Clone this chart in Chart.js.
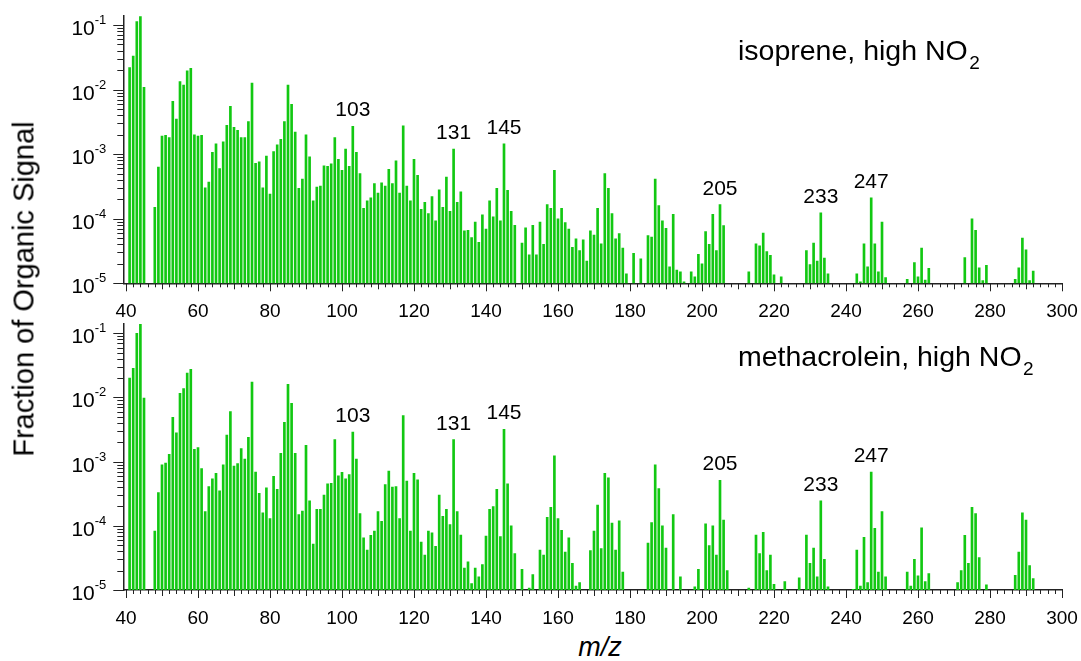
<!DOCTYPE html>
<html>
<head>
<meta charset="utf-8">
<script src="https://cdn.jsdelivr.net/npm/chart.js@4.4.1/dist/chart.umd.min.js"></script>
<style>
  body { margin: 0; background: #fff; width: 1081px; height: 661px; position: relative; overflow: hidden;
         font-family: "Liberation Sans", Arial, sans-serif; color: #000; }
  .panel { position: absolute; left: 0; width: 1081px; height: 330px; }
  #top { top: 0; }
  #bottom { top: 300px; }
  #ytitle { position: absolute; left: 24px; top: 289px; transform: translate(-50%, -50%) rotate(-90deg);
            font-size: 29px; line-height: 1; white-space: nowrap; }
  #xtitle { position: absolute; left: 600px; top: 647px; transform: translate(-50%, -50%);
            font-size: 27px; font-style: italic; line-height: 1; white-space: nowrap; }
</style>
</head>
<body>
<div class="panel" id="top"><canvas id="isopreneChart"></canvas></div>
<div class="panel" id="bottom"><canvas id="methacroleinChart"></canvas></div>
<div id="ytitle">Fraction of Organic Signal</div>
<div id="xtitle">m/z</div>
<script>
/**************************************************************
 * Data
 **************************************************************/
const MZ_START = 41;

// isoprene, high NO2  (m/z 41 ... 292, null = no bar)
const isopreneValues = [
  2.2e-2, 3.3e-2, 1.13e-1, 1.35e-1, 1.08e-2, null, null, 1.5e-4, 6.3e-4, 1.9e-3,        // 41
  1.95e-3, 1.8e-3, 6.6e-3, 3.5e-3, 1.33e-2, 1.17e-2, 1.95e-2, 2.14e-2, 2.0e-3, 1.9e-3,  // 51
  1.95e-3, 3.0e-4, 3.7e-4, 1.07e-3, 1.45e-3, 6.0e-4, 1.55e-3, 2.8e-3, 5.5e-3, 2.6e-3,   // 61
  2.35e-3, 1.8e-3, 1.8e-3, 3.2e-3, 1.26e-2, 7.2e-4, 7.6e-4, 3.0e-4, 9.3e-4, 2.4e-4,    // 71
  1.1e-3, 1.4e-3, 1.7e-3, 3.2e-3, 1.17e-2, 5.9e-3, 2.2e-3, 2.95e-4, 4.1e-4, 2.0e-3,    // 81
  9.1e-4, 1.9e-4, 3.1e-4, 3.2e-4, 6.6e-4, 6.5e-4, 7.1e-4, 1.8e-3, 8.3e-4, 5.6e-4,      // 91
  1.2e-3, 6.5e-4, 2.7e-3, 1.07e-3, 5.0e-4, 1.45e-4, 1.9e-4, 2.1e-4, 3.5e-4, 2.5e-4,    // 101
  3.6e-4, 3.2e-4, 5.8e-4, 3.5e-4, 7.9e-4, 2.5e-4, 2.75e-3, 3.2e-4, 1.9e-4, 8.3e-4,     // 111
  4.7e-4, 1.4e-4, 1.8e-4, 1.2e-4, 2.2e-4, 9.3e-5, 2.8e-4, 1.5e-4, 4.4e-4, 1.3e-4,      // 121
  1.2e-3, 1.8e-4, 2.6e-4, 6.5e-5, 6.6e-5, 5.1e-5, 8.9e-5, 4.3e-5, 1.15e-4, 6.9e-5,     // 131
  1.9e-4, 1.07e-4, 2.95e-4, 9.3e-5, 1.45e-3, 2.75e-4, 1.3e-4, 7.9e-5, null, 4.2e-5,    // 141
  7.2e-5, 2.75e-5, 7.9e-5, 2.75e-5, 8.9e-5, 4.0e-5, 1.66e-4, 1.45e-4, 5.6e-4, 1.0e-4,  // 151
  1.45e-4, 8.7e-5, 6.9e-5, 3.6e-5, 4.9e-5, 3.2e-5, 4.7e-5, 2.2e-5, 6.5e-5, 5.6e-5,     // 161
  1.45e-4, 4.1e-5, 5.0e-4, 2.95e-4, 1.2e-4, 4.9e-5, 5.9e-5, 3.5e-5, 1.4e-5, null,     // 171
  2.9e-5, null, 2.4e-5, null, 5.5e-5, 5.2e-5, 4.1e-4, 1.6e-4, 9.3e-5, 7.1e-5,          // 181
  1.8e-5, 1.17e-4, 1.6e-5, 1.5e-5, 1.05e-5, null, 1.5e-5, 1.26e-5, 2.8e-5, 2.0e-5,     // 191
  6.3e-5, 4.0e-5, 1.17e-4, 3.2e-5, 1.66e-4, 7.8e-5, null, null, null, null,            // 201
  null, null, 1.5e-5, null, 4.1e-5, 3.8e-5, 6.0e-5, 3.1e-5, 2.7e-5, 1.35e-5,           // 211
  null, 1.26e-5, null, null, null, null, null, null, 3.2e-5, 1.95e-5,                  // 221
  4.2e-5, 2.2e-5, 1.23e-4, 2.45e-5, 1.4e-5, null, null, null, null, null,              // 231
  null, null, 1.4e-5, 1.05e-5, 4.1e-5, 1.8e-5, 2.1e-4, 4.1e-5, 1.5e-5, 8.9e-5,         // 241
  1.23e-5, null, null, null, null, null, 1.15e-5, null, 2.1e-5, 1.26e-5,               // 251
  3.5e-5, 1.12e-5, 1.7e-5, null, null, null, null, null, null, null,                   // 261
  null, null, 2.5e-5, null, 1.0e-4, 6.6e-5, 1.74e-5, 1.1e-5, 1.9e-5, null,             // 271
  null, null, null, null, null, null, 1.15e-5, 1.74e-5, 5.0e-5, 3.3e-5,                // 281
  1.1e-5, 1.55e-5                                                                      // 291
];

// methacrolein, high NO2  (m/z 41 ... 292, null = no bar)
const methacroleinValues = [
  2.0e-2, 2.85e-2, 1.0e-1, 1.45e-1, 9.8e-3, null, null, 8.3e-5, 3.3e-4, 8.9e-4,        // 41
  9.5e-4, 1.3e-3, 4.9e-3, 2.8e-3, 1.16e-2, 1.38e-2, 2.4e-2, 2.75e-2, 1.55e-3, 1.66e-3, // 51
  7.8e-4, 1.66e-4, 4.1e-4, 5.4e-4, 6.6e-4, 3.5e-4, 8.9e-4, 2.6e-3, 6.0e-3, 8.5e-4,     // 61
  9.3e-4, 1.6e-3, 1.1e-3, 2.4e-3, 1.74e-2, 6.9e-4, 3.2e-4, 1.6e-4, 3.9e-4, 1.3e-4,     // 71
  5.9e-4, 3.7e-4, 1.35e-3, 4.1e-3, 1.6e-2, 8.1e-3, 1.35e-3, 1.5e-4, 1.7e-4, 1.8e-3,    // 81
  2.45e-4, 5.2e-5, 1.8e-4, 1.8e-4, 3.0e-4, 4.5e-4, 4.6e-4, 2.2e-3, 6.0e-4, 6.8e-4,     // 91
  5.4e-4, 6.3e-4, 2.9e-3, 1.1e-3, 1.55e-4, 6.5e-5, 4.2e-5, 7.1e-5, 8.3e-5, 1.66e-4,    // 101
  1.17e-4, 4.4e-4, 7.1e-4, 4.0e-4, 4.1e-4, 1.3e-4, 5.2e-3, 5.0e-4, 8.3e-5, 6.6e-4,     // 111
  5.2e-4, 5.6e-5, 3.5e-5, 8.3e-5, 7.8e-5, 4.8e-5, 3.0e-4, 1.4e-4, 1.8e-4, 1.05e-4,     // 121
  2.2e-3, 1.66e-4, 7.2e-5, 2.2e-5, 2.75e-5, 1.26e-5, 2.2e-5, 1.6e-5, 2.5e-5, 6.9e-5,   // 131
  1.8e-4, 2.0e-4, 3.7e-4, 6.8e-5, 3.2e-3, 4.5e-4, 1.0e-4, 3.7e-5, null, 2.1e-5,        // 141
  null, 1.07e-5, 1.74e-5, null, 4.2e-5, 3.5e-5, 1.35e-4, 1.95e-4, 1.23e-3, 1.3e-4,     // 151
  8.5e-5, 3.9e-5, 6.5e-5, 2.6e-5, 1.15e-5, 1.3e-5, null, null, 4.1e-5, 8.3e-5,         // 161
  2.1e-4, 4.4e-5, 6.6e-4, 5.6e-4, 1.1e-4, 4.2e-5, 1.2e-4, 1.9e-5, null, null,          // 171
  null, null, null, null, 5.4e-5, 1.12e-4, 8.9e-4, 3.8e-4, 1.0e-4, 4.5e-5,             // 181
  null, 1.5e-4, null, 1.6e-5, null, null, null, 1.12e-5, 2.1e-5, null,                 // 191
  1.07e-4, 4.9e-5, 1.0e-4, 3.5e-5, 5.1e-4, 1.23e-4, 2.0e-5, null, null, null,          // 201
  null, null, 1.07e-5, null, 7.2e-5, 3.7e-5, 7.9e-5, 2.0e-5, 3.5e-5, 1.23e-5,          // 211
  null, null, 1.35e-5, null, null, null, 1.55e-5, null, 7.2e-5, 2.6e-5,                // 221
  4.5e-5, 1.6e-5, 2.45e-4, 3.0e-5, 1.12e-5, null, null, null, null, null,              // 231
  null, 1.02e-5, 4.2e-5, 1.15e-5, 6.6e-5, 1.3e-5, 6.9e-4, 9.1e-5, 1.9e-5, 1.66e-4,     // 241
  1.6e-5, null, null, null, null, null, 1.9e-5, 1.15e-5, 3.0e-5, 1.66e-5,              // 251
  9.3e-5, 1.35e-5, 1.8e-5, null, null, null, null, null, null, null,                   // 261
  1.3e-5, 2.0e-5, 7.1e-5, 2.6e-5, 1.95e-4, 1.55e-4, 3.2e-5, null, 1.2e-5, null,        // 271
  null, null, null, null, null, null, 1.7e-5, 3.9e-5, 1.6e-4, 1.23e-4,                 // 281
  2.4e-5, 1.5e-5                                                                       // 291
];

const mzValues = isopreneValues.map((_, i) => MZ_START + i);

const peakLabels = [103, 131, 145, 205, 233, 247];

const xTickValues = [40, 60, 80, 100, 120, 140, 160, 180, 200, 220, 240, 260, 280, 300];
const yTickValues = [1e-5, 1e-4, 1e-3, 1e-2, 1e-1];
const yTickExponents = ["-5", "-4", "-3", "-2", "-1"];

/**************************************************************
 * Styling
 **************************************************************/
const FONT = '"Liberation Sans", Arial, sans-serif';
const BAR_COLOR = "rgb(18, 200, 18)";
const AXIS_COLOR = "#222";

Chart.defaults.font.family = FONT;
Chart.defaults.color = "#000";

/**************************************************************
 * Plugin: tick marks, 10^n labels, peak labels, panel title
 **************************************************************/
const panelDecor = {
  id: "panelDecor",
  afterDraw(chart, args, opts) {
    const { ctx } = chart;
    const xs = chart.scales.x;
    const ys = chart.scales.y;
    ctx.save();

    // tick marks
    ctx.strokeStyle = AXIS_COLOR;
    ctx.lineWidth = 1;
    ctx.beginPath();
    for (let v = 40; v <= 300; v += 2) {
      const px = Math.round(xs.getPixelForValue(v)) + 0.5;
      const len = v % 20 === 0 ? 8 : (v % 10 === 0 ? 6 : 4);
      ctx.moveTo(px, ys.bottom);
      ctx.lineTo(px, ys.bottom + len);
    }
    for (let e = -5; e <= -1; e++) {
      for (let m = 1; m <= 9; m++) {
        const v = m * Math.pow(10, e);
        if (v > ys.max) break;
        const py = Math.round(ys.getPixelForValue(v)) + 0.5;
        const len = m === 1 ? 10 : 6;
        ctx.moveTo(xs.left - len, py);
        ctx.lineTo(xs.left, py);
      }
    }
    ctx.stroke();

    // y tick labels: 10 with raised exponent
    ctx.fillStyle = "#000";
    ctx.textBaseline = "alphabetic";
    ctx.textAlign = "right";
    const labelRight = xs.left - 17;
    yTickValues.forEach((v, i) => {
      const py = ys.getPixelForValue(v);
      ctx.font = "13px " + FONT;
      const ew = ctx.measureText(yTickExponents[i]).width;
      ctx.fillText(yTickExponents[i], labelRight, py - 1);
      ctx.font = "21px " + FONT;
      ctx.fillText("10", labelRight - ew, py + 10);
    });

    // peak labels
    ctx.font = "21px " + FONT;
    ctx.textAlign = "center";
    peakLabels.forEach(m => {
      const val = opts.values[m - MZ_START];
      ctx.fillText(String(m), xs.getPixelForValue(m), ys.getPixelForValue(val) - 10);
    });

    // panel title with subscript 2
    ctx.textAlign = "left";
    ctx.font = "28.5px " + FONT;
    const tx = 738;
    const ty = chart.chartArea.top + opts.titleOffset;
    ctx.fillText(opts.title, tx, ty);
    const w = ctx.measureText(opts.title).width;
    ctx.font = "19px " + FONT;
    ctx.fillText("2", tx + w + 1.5, ty + 9);

    ctx.restore();
  }
};

/**************************************************************
 * Chart builder
 **************************************************************/
function makePanel(canvasId, values, title, areaTop, areaBottom, titleOffset) {
  const points = [];
  mzValues.forEach((m, i) => {
    if (values[i] !== null) points.push({ x: m, y: values[i] });
  });

  return new Chart(document.getElementById(canvasId), {
    type: "bar",
    data: {
      datasets: [{
        data: points,
        backgroundColor: BAR_COLOR,
        borderWidth: 0,
        barThickness: 2
      }]
    },
    options: {
      responsive: true,
      maintainAspectRatio: false,
      animation: false,
      layout: { padding: { left: 0, right: 19, top: areaTop, bottom: 0 } },
      plugins: {
        legend: { display: false },
        tooltip: { enabled: false },
        panelDecor: { values: values, title: title, titleOffset: titleOffset }
      },
      scales: {
        x: {
          type: "linear",
          min: 39.25,
          max: 300,
          offset: false,
          grid: { display: false, drawTicks: false, offset: false },
          border: { display: true, color: AXIS_COLOR, width: 1.5 },
          afterBuildTicks: s => { s.ticks = xTickValues.map(v => ({ value: v })); },
          afterFit: s => { s.height = 330 - areaBottom; s.paddingLeft = 0; s.paddingRight = 0; },
          ticks: {
            autoSkip: false,
            maxRotation: 0,
            padding: 17,
            font: { size: 19 },
            color: "#000"
          }
        },
        y: {
          type: "logarithmic",
          min: 1e-5,
          max: 0.14,
          grid: { display: false, drawTicks: false },
          border: { display: true, color: AXIS_COLOR, width: 1.5 },
          afterBuildTicks: s => { s.ticks = yTickValues.map(v => ({ value: v })); },
          afterFit: s => { s.width = 123.3; s.paddingTop = 0; s.paddingBottom = 0; },
          ticks: { display: false }
        }
      }
    },
    plugins: [panelDecor]
  });
}

makePanel("isopreneChart", isopreneValues, "isoprene, high NO", 15.6, 283.3, 44.5);
makePanel("methacroleinChart", methacroleinValues, "methacrolein, high NO", 23.9, 290, 42);
</script>
</body>
</html>
